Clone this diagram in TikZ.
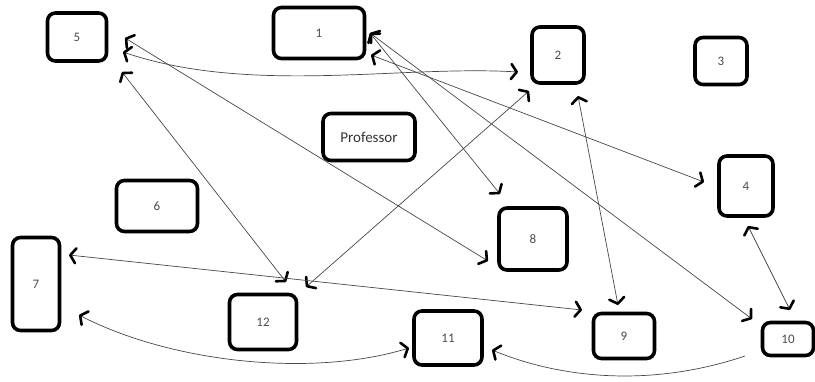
\documentclass[tikz,border=0pt]{standalone}
\usepackage{fontspec}
\setmainfont{Carlito}
\usetikzlibrary{arrows.meta}
\begin{document}
\begin{tikzpicture}[x=1pt,y=-1pt,
  box/.style={draw=black,line width=3.6pt,rounded corners=8pt,fill=white,
    inner sep=0pt,text=black!70,font=\fontsize{13}{15}\selectfont},
  link/.style={draw=black!72,line width=0.7pt},
  barb/.tip={Straight Barb[length=5.5pt,width=15pt,line width=2.6pt,color=black,round]},
  both/.style={link,barb-barb},
  one/.style={link,-barb}]
\useasboundingbox (0,0) rectangle (815,381);
% boxes: centre, then outer size minus the border
\node[box,minimum width=59pt,minimum height=48pt] (n5) at (77,37) {5};
\node[box,minimum width=91pt,minimum height=51pt] (n1) at (319,33) {1};
\node[box,minimum width=52pt,minimum height=56pt] (n2) at (558,55) {2};
\node[box,minimum width=52pt,minimum height=47pt] (n3) at (721,61) {3};
\node[box,minimum width=92pt,minimum height=47pt,text=black!80,
      font=\fontsize{15}{17}\selectfont] (prof) at (369,137) {Professor};
\node[box,minimum width=54pt,minimum height=60pt] (n4) at (746,186) {4};
\node[box,minimum width=81pt,minimum height=51pt] (n6) at (157,206) {6};
\node[box,minimum width=47pt,minimum height=93pt] (n7) at (36,284) {7};
\node[box,minimum width=68pt,minimum height=62pt] (n8) at (533,239) {8};
\node[box,minimum width=67pt,minimum height=55pt] (n12) at (263,322) {12};
\node[box,minimum width=68pt,minimum height=54pt] (n11) at (448,338) {11};
\node[box,minimum width=61pt,minimum height=45pt] (n9) at (624,336) {9};
\node[box,minimum width=51pt,minimum height=33pt] (n10) at (788,339) {10};
% connector ends beside the boxes
\coordinate (p5a) at (125,38);
\coordinate (p5b) at (123,52);
\coordinate (p5c) at (122,72);
\coordinate (p1a) at (370,33);
\coordinate (p1b) at (371,55);
\coordinate (p2a) at (518,72);
\coordinate (p2b) at (529,91);
\coordinate (p2c) at (578,96);
\coordinate (p4a) at (704,182);
\coordinate (p4b) at (748,226);
\coordinate (p7a) at (69,255);
\coordinate (p7b) at (79,315);
\coordinate (p8a) at (488,261);
\coordinate (p8b) at (500,194);
\coordinate (p9a) at (582,310);
\coordinate (p9b) at (618,305);
\coordinate (p10a) at (752,319);
\coordinate (p10b) at (790,310);
\coordinate (p10c) at (745,356);
\coordinate (p11a) at (409,348);
\coordinate (p11b) at (492,350);
\coordinate (p12a) at (286,282);
\coordinate (p12b) at (306,287);
% connectors
\draw[both] (p5b) .. controls (250,95) and (400,65) .. (p2a);
\draw[both] (p5a) -- (p8a);
\draw[both] (p5c) -- (p12a);
\draw[both] (p1a) -- (p8b);
\draw[both] (p1b) -- (p4a);
\draw[both] (p1a) -- (p10a);
\draw[both] (p12b) -- (p2b);
\draw[both] (p7a) -- (p9a);
\draw[both] (p7b) .. controls (170,362) and (310,378) .. (p11a);
\draw[both] (p2c) -- (p9b);
\draw[both] (p4b) -- (p10b);
\draw[one] (p10c) .. controls (650,388) and (560,378) .. (p11b);
\end{tikzpicture}
\end{document}
